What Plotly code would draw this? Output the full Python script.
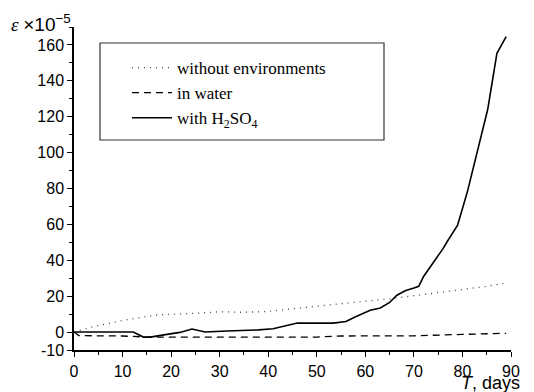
import plotly.graph_objects as go

# ---- data ----
t_dry = [0, 4, 10, 17, 25, 30, 35, 40, 45, 50, 55, 60, 65, 70, 75, 80, 85, 89]
e_dry = [0, 3, 6.5, 9.5, 10.5, 11.3, 11.0, 11.5, 13.0, 14.5, 15.8, 17.2, 18.5, 20.2, 22.0, 23.8, 25.5, 27.3]

t_water = [0, 1, 10, 15, 30, 50, 55, 70, 80, 89]
e_water = [0, -2.0, -2.2, -2.8, -2.8, -2.8, -2.2, -2.1, -1.3, -0.7]

t_acid = [0, 12.2, 14.3, 15.7, 19.8, 21.8, 24.3, 27, 31.5, 34.2, 38, 41, 43.5, 46, 53.4, 56, 58, 61,
          63.1, 65, 66.5, 68.2, 70, 71, 72, 74, 76, 77, 79, 81, 83, 85.2, 87.1, 89]
e_acid = [0, 0, -2.8, -2.8, -1.0, -0.2, 1.7, 0, 0.6, 0.8, 1.2, 1.8, 3.5, 5.0, 5.0, 5.9, 8.5, 12.2,
          13.4, 16.5, 20.5, 23.0, 24.5, 25.5, 31, 38.5, 46.5, 51, 59.5, 78, 100, 124, 155.3, 164.6]

x_ticks = [0, 10, 20, 30, 40, 50, 60, 70, 80, 90]
y_ticks = [-10, 0, 20, 40, 60, 80, 100, 120, 140, 160]
y_ticktext = ["-10", "0", "20", "40", "60", "80", "100", "120", "140", "160"]

names = ["without environments", "in water", "with H<sub>2</sub>SO<sub>4</sub>"]

# ---- figure ----
fig = go.Figure()
fig.add_trace(go.Scatter(x=t_dry, y=e_dry, mode="lines", name=names[0],
                         line=dict(color="#444", width=1.3, dash="1px,5px")))
fig.add_trace(go.Scatter(x=t_water, y=e_water, mode="lines", name=names[1],
                         line=dict(color="black", width=1.3, dash="7px,5px")))
fig.add_trace(go.Scatter(x=t_acid, y=e_acid, mode="lines", name=names[2],
                         line=dict(color="black", width=1.6)))

W, H = 534, 392
L, R, T, B = 74, 23, 27, 42
pw, ph = W - L - R, H - T - B

def px(xp):
    return (xp - L) / pw

def py(yp):
    return (H - B - yp) / ph

axis_font = dict(family="Arial, Liberation Sans, sans-serif", size=16, color="black")

fig.update_layout(
    width=W, height=H,
    margin=dict(l=L, r=R, t=T, b=B, pad=0, autoexpand=False),
    paper_bgcolor="white", plot_bgcolor="white",
    showlegend=True,
    legend=dict(x=px(127), y=py(50), xanchor="left", yanchor="top",
                bgcolor="rgba(0,0,0,0)", borderwidth=0, itemwidth=40,
                font=dict(family="Liberation Serif, Times New Roman, serif", size=17, color="black"),
                tracegroupgap=0),
    xaxis=dict(range=[0, 90], tickvals=x_ticks, showgrid=False, zeroline=False,
               automargin=False,
               showline=True, linecolor="black", linewidth=1.5,
               ticks="outside", ticklen=5, tickwidth=1.2, tickcolor="black",
               tickfont=axis_font, ticklabelstandoff=1,
               minor=dict(dtick=5, ticks="outside", ticklen=3, tickcolor="black", tickwidth=1)),
    yaxis=dict(range=[-10, 170], tickvals=y_ticks, ticktext=y_ticktext,
               showgrid=False, zeroline=False, automargin=False,
               showline=True, linecolor="black", linewidth=1.5,
               ticks="outside", ticklen=5, tickwidth=1.2, tickcolor="black",
               tickfont=axis_font,
               minor=dict(dtick=10, ticks="outside", ticklen=3, tickcolor="black", tickwidth=1)),
)

# legend frame
fig.add_shape(type="rect", xref="paper", yref="paper",
              x0=px(100), x1=px(384), y0=py(140), y1=py(43),
              line=dict(color="#333", width=1.2), fillcolor="rgba(0,0,0,0)", layer="below")

# axis titles
fig.add_annotation(xref="paper", yref="paper", x=px(522), y=py(395),
                   xanchor="right", yanchor="bottom", showarrow=False,
                   text="<i>T</i>, days", font=dict(family="Arial, Liberation Sans, sans-serif", size=18, color="black"))
fig.add_annotation(xref="paper", yref="paper", x=px(9), y=py(37),
                   xanchor="left", yanchor="bottom", showarrow=False,
                   text="<i>ε</i> <span style='font-family:Arial, Liberation Sans, sans-serif'>×10<sup>−5</sup></span>",
                   font=dict(family="Liberation Serif, Times New Roman, serif", size=19, color="black"))

fig.write_html("out.html")
